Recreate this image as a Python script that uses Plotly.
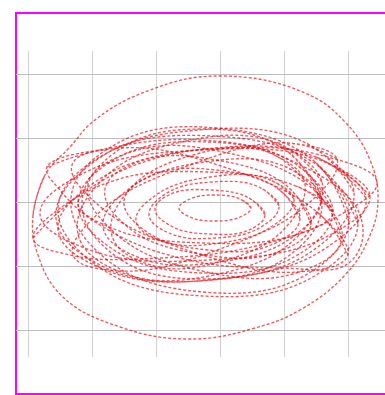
import plotly.graph_objects as go

# Loops of the trajectory (x, y in chart units; grid every 64)
loop_outer = [(-187, -13), (-175, 27), (-150, 55), (-125, 82), (-70, 112), (0, 126), (85, 109),
              (125, 80), (150, 42), (158, 2), (148, -38), (125, -73), (80, -108), (35, -126),
              (-30, -137), (-100, -125), (-157, -95), (-182, -53)]
loop_e2 = [(-187, -36), (-140, 7), (-70, 42), (10, 54), (100, 47), (157, 20), (120, -13),
           (40, -43), (-60, -56), (-150, -53)]
loop_e3 = [(-173, 35), (-120, 52), (-20, 62), (70, 42), (140, -13), (130, -60), (60, -66),
           (-40, -56), (-120, -23), (-160, 12)]
loop_m1 = [(134, 10), (86, 59), (-22, 72), (-125, 41), (-164, -16), (-116, -65), (-8, -78), (95, -47)]
loop_m2 = [(129, -20), (94, 41), (-3, 74), (-104, 58), (-149, 4), (-114, -57), (-17, -90), (84, -74)]
loop_m3 = [(102, 20), (57, 59), (-34, 61), (-117, 23), (-142, -32), (-97, -71), (-6, -73), (77, -35)]
loop_m4 = [(122, -37), (94, 12), (8, 49), (-86, 51), (-132, 17), (-104, -32), (-18, -69), (76, -71)]
loop_m5 = [(150, 6), (100, 42), (-18, 52), (-134, 30), (-180, -12), (-130, -48), (-12, -58), (104, -36)]
loop_m6 = [(101, 5), (64, 36), (-15, 40), (-90, 14), (-117, -25), (-80, -56), (-1, -60), (74, -34)]
loop_m7 = [(138, -22), (97, 37), (-8, 66), (-115, 48), (-162, -6), (-121, -65), (-16, -94), (91, -76)]
loop_m8 = [(102, -2), (67, 51), (-18, 73), (-103, 51), (-138, -2), (-103, -55), (-18, -77), (67, -55)]
loop_m9 = [(146, 4), (96, 45), (-15, 53), (-122, 22), (-162, -28), (-112, -69), (-1, -77), (106, -46)]
loop_i1 = [(80, -17), (57, 14), (-4, 32), (-67, 27), (-96, 1), (-73, -30), (-12, -48), (51, -43)]
loop_i2 = [(59, -4), (39, 15), (-8, 20), (-53, 9), (-71, -13), (-51, -31), (-4, -36), (41, -25)]
loop_i3 = [(31, -6), (20, 3), (-5, 7), (-30, 3), (-41, -6), (-30, -15), (-5, -19), (20, -15)]
loop_i4 = [(84, 22), (45, 51), (-27, 47), (-91, 12), (-108, -34), (-69, -63), (3, -59), (67, -24)]
loop_i5 = [(45, -13), (29, 4), (-10, 12), (-49, 8), (-65, -7), (-49, -24), (-10, -32), (29, -28)]
loop_i6 = [(74, 3), (48, 23), (-10, 25), (-64, 7), (-84, -19), (-58, -39), (0, -41), (54, -23)]
loop_i7 = [(91, -23), (67, 16), (-4, 42), (-79, 41), (-115, 13), (-91, -26), (-20, -52), (55, -51)]
loop_n1 = [(113, -10), (76, 16), (-13, 30), (-104, 22), (-142, -1), (-106, -27), (-16, -41), (75, -33)]
loop_n2 = [(113, -10), (77, 37), (-12, 60), (-103, 44), (-142, -1), (-106, -48), (-17, -71), (74, -55)]
loop_t1 = [(117, 43), (67, 59), (-30, 37), (-119, -9), (-147, -53), (-97, -69), (0, -47), (89, -1)]
loop_t2 = [(128, -53), (97, -10), (4, 35), (-98, 54), (-148, 37), (-117, -7), (-24, -51), (78, -70)]

loops = [loop_outer, loop_e2, loop_e3, loop_m1, loop_m2, loop_m3, loop_m4, loop_m5, loop_m6,
         loop_m7, loop_m8, loop_m9, loop_i1, loop_i2, loop_i3, loop_i4, loop_i5, loop_i6,
         loop_i7, loop_n1, loop_n2, loop_t1, loop_t2]

fig = go.Figure()
for lp in loops:
    pts = lp + [lp[0], lp[1]]
    fig.add_trace(go.Scatter(
        x=[p[0] for p in pts], y=[p[1] for p in pts], mode="lines",
        line=dict(color="rgba(228,0,10,0.66)", width=1.35, dash="3px,2px",
                  shape="spline", smoothing=1.2),
        showlegend=False, hoverinfo="skip"))

fig.update_layout(
    width=385, height=395,
    margin=dict(l=16, r=0, t=51, b=38),
    paper_bgcolor="white", plot_bgcolor="white",
    xaxis=dict(range=[-204, 165], tick0=0, dtick=64, showticklabels=False, ticks="",
               showgrid=True, gridcolor="#d2d2d2", gridwidth=1, zeroline=False,
               showline=False, fixedrange=True),
    yaxis=dict(range=[-155, 151], tick0=0, dtick=64, showticklabels=False, ticks="",
               showgrid=True, gridcolor="#bdbdbd", gridwidth=1, zeroline=False,
               showline=False, fixedrange=True),
    shapes=[dict(type="rect", xref="paper", yref="paper", x0=0, x1=1.1,
                 y0=-0.121, y1=1.124, line=dict(color="#ff00ff", width=2), layer="below")],
)
fig.write_html("out.html")
